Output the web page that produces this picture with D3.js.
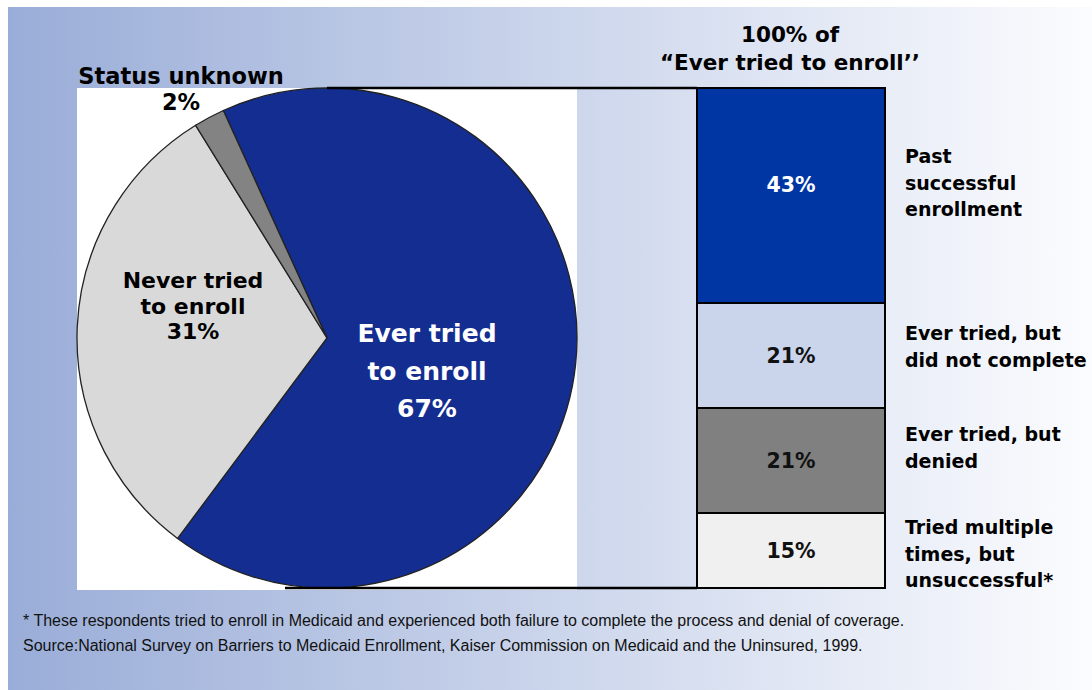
<!DOCTYPE html>
<html>
<head>
<meta charset="utf-8">
<script src="https://d3js.org/d3.v7.min.js"></script>
<style>
  body { margin: 0; background: #fff; }
  svg { display: block; }
</style>
</head>
<body>
<div id="chart"></div>
<script>
// pie: share of respondents
const pieLabels = ["Ever tried to enroll", "Never tried to enroll", "Status unknown"];
const pieValues = [67, 31, 2];

// bar: breakdown of "Ever tried to enroll"
const barLabels = [
  ["Past", "successful", "enrollment"],
  ["Ever tried, but", "did not complete"],
  ["Ever tried, but", "denied"],
  ["Tried multiple", "times, but", "unsuccessful*"]
];
const barValues = [43, 21, 21, 15];

const footnotes = [
  "* These respondents tried to enroll in Medicaid and experienced both failure to complete the process and denial of coverage.",
  "Source:National Survey on Barriers to Medicaid Enrollment, Kaiser Commission on Medicaid and the Uninsured, 1999."
];

const W = 1092, H = 690;
const font = "'DejaVu Sans', Verdana, sans-serif";

const svg = d3.select("#chart")
  .append("svg")
  .attr("width", W)
  .attr("height", H);

// background gradient panel
const defs = svg.append("defs");
const grad = defs.append("linearGradient")
  .attr("id", "bg")
  .attr("x1", "0%").attr("x2", "100%").attr("y1", "0%").attr("y2", "0%");
grad.append("stop").attr("offset", "0%").attr("stop-color", "#9aadd8");
grad.append("stop").attr("offset", "100%").attr("stop-color", "#fbfcfe");

svg.append("rect")
  .attr("x", 8).attr("y", 7)
  .attr("width", W - 8).attr("height", H - 7)
  .attr("fill", "url(#bg)");

// white box behind the pie
svg.append("rect")
  .attr("x", 77).attr("y", 88)
  .attr("width", 500).attr("height", 502)
  .attr("fill", "#fff");

// ---- pie ----
const cx = 327, cy = 338, r = 250;
const pieColors = ["#142d90", "#d9d9d9", "#838383"];

const pie = d3.pie()
  .sort(null)
  .startAngle(-24.5 * Math.PI / 180)
  .endAngle(-24.5 * Math.PI / 180 + 2 * Math.PI);

const arc = d3.arc().innerRadius(0).outerRadius(r);

const gPie = svg.append("g")
  .attr("transform", `translate(${cx},${cy})`);

gPie.selectAll("path")
  .data(pie(pieValues))
  .join("path")
  .attr("d", arc)
  .attr("fill", (d, i) => pieColors[i])
  .attr("stroke", "#222")
  .attr("stroke-width", 1.3);

// connector lines from pie to bar
const barX = 697, barW = 188;
svg.append("line")
  .attr("x1", cx).attr("x2", barX)
  .attr("y1", cy - r).attr("y2", cy - r)
  .attr("stroke", "#000").attr("stroke-width", 2.5);
svg.append("line")
  .attr("x1", cx - 42).attr("x2", barX)
  .attr("y1", cy + r).attr("y2", cy + r)
  .attr("stroke", "#000").attr("stroke-width", 2.5);

// pie labels
function multiline(x, y, lines, size, color, lh) {
  const t = svg.append("text")
    .attr("x", x).attr("y", y)
    .attr("text-anchor", "middle")
    .attr("font-family", font)
    .attr("font-weight", "bold")
    .attr("font-size", size)
    .attr("fill", color);
  lines.forEach((l, i) => {
    t.append("tspan").attr("x", x).attr("dy", i === 0 ? 0 : lh).text(l);
  });
}

multiline(427, 342, ["Ever tried", "to enroll", pieValues[0] + "%"], 25, "#fff", 37.5);
multiline(193, 288, ["Never tried", "to enroll", pieValues[1] + "%"], 22, "#000", 25.5);
multiline(181, 84, ["Status unknown", pieValues[2] + "%"], 22.5, "#000", 26);

// ---- stacked bar ----
const barColors = ["#0036a4", "#cad5ec", "#808080", "#f0f0f0"];
const barText = ["#fff", "#111", "#111", "#111"];

const y = d3.scaleLinear()
  .domain([0, d3.sum(barValues)])
  .range([88, 588]);

let acc = 0;
const segs = barValues.map((v, i) => {
  const s = { v, i, y0: acc, y1: acc + v };
  acc += v;
  return s;
});

svg.selectAll("rect.seg")
  .data(segs)
  .join("rect")
  .attr("class", "seg")
  .attr("x", barX)
  .attr("y", d => y(d.y0))
  .attr("width", barW)
  .attr("height", d => y(d.y1) - y(d.y0))
  .attr("fill", d => barColors[d.i])
  .attr("stroke", "#000")
  .attr("stroke-width", 2);

// value labels (the top one sits a bit above centre)
const valShift = [-4, 7, 7, 7];
svg.selectAll("text.segval")
  .data(segs)
  .join("text")
  .attr("class", "segval")
  .attr("x", barX + barW / 2)
  .attr("y", d => (y(d.y0) + y(d.y1)) / 2 + valShift[d.i])
  .attr("text-anchor", "middle")
  .attr("font-family", font)
  .attr("font-weight", "bold")
  .attr("font-size", 20.5)
  .attr("fill", d => barText[d.i])
  .text(d => d.v + "%");

// right-hand labels
const lblShift = [-32.5, -15.5, -19.5, -16.5];
segs.forEach(d => {
  const lines = barLabels[d.i];
  const top = (y(d.y0) + y(d.y1)) / 2 + lblShift[d.i];
  const t = svg.append("text")
    .attr("x", 905).attr("y", top)
    .attr("font-family", font)
    .attr("font-weight", "bold")
    .attr("font-size", 19)
    .attr("fill", "#000");
  lines.forEach((l, j) => {
    t.append("tspan").attr("x", 905).attr("dy", j === 0 ? 0 : 26.5).text(l);
  });
});

// bar title
multiline(790, 42, ["100% of", "\u201CEver tried to enroll\u2019\u2019"], 21.5, "#000", 28);

// footnotes
footnotes.forEach((f, i) => {
  svg.append("text")
    .attr("x", 23).attr("y", 626 + i * 25)
    .attr("font-family", "'Liberation Sans', Arial, sans-serif")
    .attr("font-size", 16)
    .attr("fill", "#111")
    .text(f);
});
</script>
</body>
</html>
